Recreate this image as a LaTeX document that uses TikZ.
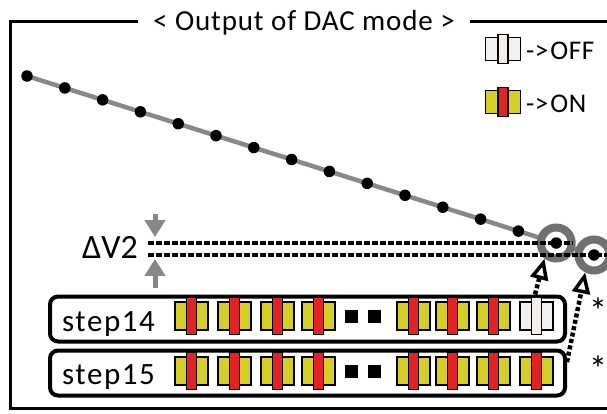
\documentclass[tikz,border=0pt]{standalone}
\usepackage{fontspec}
\setmainfont{Carlito}
\newfontfamily\stepfont[LetterSpace=5]{Carlito}
\newfontfamily\titlefont[LetterSpace=3]{Carlito}
\newfontfamily\legfont[LetterSpace=2]{Carlito}
\usepackage{tikz}
\usetikzlibrary{arrows.meta, positioning, backgrounds}
\definecolor{swyellow}{RGB}{212,206,40}
\definecolor{swred}{RGB}{226,35,38}
\definecolor{swoff}{RGB}{243,240,238}
\definecolor{curvegray}{RGB}{136,136,136}
\definecolor{ringgray}{RGB}{112,112,112}

\begin{document}
\begin{tikzpicture}[
      x=1pt, y=-1pt,
      frame/.style={line width=3pt, black},
      stepbox/.style={rectangle, rounded corners=8pt, draw=black, line width=4pt, fill=white, minimum width=515pt, minimum height=45pt, inner sep=0pt},
      steplabel/.style={font=\stepfont\fontsize{31}{35}\selectfont, inner sep=0pt, anchor=base west},
      swbody/.style={rectangle, draw=black, line width=1.6pt, fill=swyellow, minimum width=33pt, minimum height=28pt, inner sep=0pt},
      swbar/.style={rectangle, draw=black, line width=1.6pt, fill=swred, minimum width=10pt, minimum height=37pt, inner sep=0pt},
      sqdot/.style={rectangle, fill=black, minimum size=13pt, inner sep=0pt},
      dot/.style={circle, fill=black, minimum size=11.5pt, inner sep=0pt},
      ring/.style={circle, draw=ringgray, line width=8pt, fill=white, minimum size=31pt, inner sep=0pt},
      curve/.style={line width=4.5pt, curvegray},
      level/.style={line width=4pt, black, dash pattern=on 6pt off 2pt},
      gapmark/.style={-{Triangle[length=17pt, width=20pt]}, line width=5pt, curvegray},
      ptr/.style={-{Triangle[open, length=21pt, width=18pt, line width=3.5pt]}, line width=4.5pt, black, dash pattern=on 4pt off 2.5pt},
      legtext/.style={font=\legfont\fontsize{27}{31}\selectfont, inner sep=0pt, anchor=west},
      note/.style={font=\fontsize{36}{40}\selectfont, anchor=west, inner sep=0pt},
    ]
    \useasboundingbox (0,0) rectangle (607,413);

    % frame with title
    \node[font=\titlefont\fontsize{29}{34}\selectfont, text height=19pt, text depth=0pt, inner xsep=15pt, inner ysep=0pt] (title) at (304,21) {< Output of DAC mode >};
    \draw[frame] (title.west) -- (10,21) |- (625,408) -- (625,21) -- (title.east);

    % legend
    \node[swbody, fill=swoff, minimum width=35pt, minimum height=23pt] (offbody) at (503,49) {};
    \node[swbar, fill=swoff, minimum height=29pt] (offbar) at (503,49) {};
    \node[legtext] (offtext) at (526,51) {->\kern2pt OFF};
    \node[swbody, minimum width=35pt, minimum height=23pt] (onbody) at (503,102) {};
    \node[swbar, minimum height=29pt] (onbar) at (503,102) {};
    \node[legtext] (ontext) at (526,104) {->\kern2pt ON};

    % output levels
    \node[ring] (r14) at (556.2,243) {};
    \node[ring] (r15) at (594,255) {};
    \node[font=\fontsize{34}{40}\selectfont, anchor=east, inner xsep=10pt, inner ysep=0pt] (dv) at (148,247) {ΔV2};
    \foreach \i in {0,...,15}
      \coordinate (p\i) at ({27+37.8*\i},{76+11.93*\i});
    \draw[level] (dv.east |- p14) -- ([xshift=17pt]p14);
    \draw[level] (dv.east |- p15) -- ([xshift=30pt]p15);
    \foreach \i in {0,...,15}
      \node[dot] (d\i) at (p\i) {};
    \begin{scope}[on background layer]
      \draw[curve] (d0.center) -- (d15.center);
    \end{scope}

    \coordinate (gtop) at (155,214);
    \coordinate (gbot) at (155,288);
    \draw[gapmark] (gtop) -- (gtop |- d14.north);
    \draw[gapmark] (gbot) -- ([yshift=2pt]gbot |- d15.south);

    % step rows
    \node[stepbox] (s14) at (307.5,319) {};
    \node[stepbox] (s15) at (307.5,373) {};
    \node[steplabel] (t14) at (62,331) {step14};
    \node[steplabel] (t15) at (62,384) {step15};

    \foreach \x [count=\k] in {191.5,234.5,277.5,318.5,413.5,452.5,493.5} {
      \node[swbody] (a\k) at (\x,316) {};
      \node[swbar] (ab\k) at (\x,316) {};
    }
    \node[swbody, fill=swoff] (a8) at (536.5,316) {};
    \node[swbar, fill=swoff] (ab8) at (536.5,316) {};
    \foreach \x [count=\k] in {191.5,234.5,277.5,318.5,413.5,452.5,493.5,536.5} {
      \node[swbody] (b\k) at (\x,371) {};
      \node[swbar] (bb\k) at (\x,371) {};
    }
    \node[sqdot] (q1) at (351.5,316.5) {};
    \node[sqdot] (q2) at (374.5,316.5) {};
    \node[sqdot] (q3) at (351.5,371.5) {};
    \node[sqdot] (q4) at (374.5,371.5) {};

    \draw[ptr] ([xshift=-32pt]s14.north east) -- (r14.233);
    \draw[ptr] ([yshift=11pt]s15.east) -- (r15.243);

    \node[note] (star14) at (589,311) {*};
    \node[note] (star15) at (589,369) {*};
  \end{tikzpicture}
\end{document}
